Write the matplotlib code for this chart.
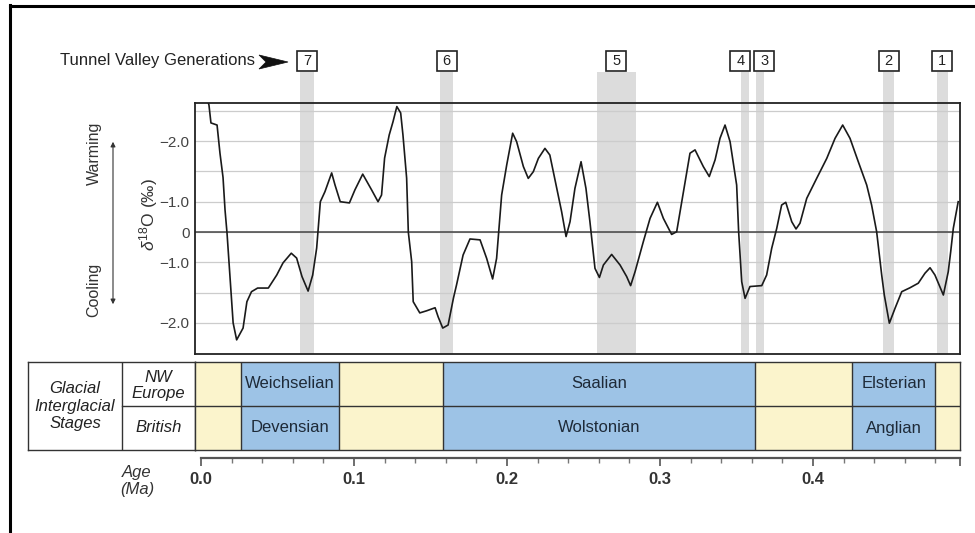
import matplotlib
matplotlib.use('Agg')
import numpy as np
import matplotlib.pyplot as plt
from matplotlib.patches import Polygon, FancyArrowPatch
from matplotlib.lines import Line2D
import matplotlib.transforms as mtransforms

plt.rcParams['font.family'] = ['Liberation Sans', 'DejaVu Sans']
plt.rcParams['mathtext.fontset'] = 'custom'
plt.rcParams['mathtext.rm'] = 'Liberation Sans'
plt.rcParams['mathtext.it'] = 'Liberation Sans:italic'

# ---------------- data ----------------
# Age (Ma) and d18O curve (in plot grid units; 1 unit = one grid line)
age = [0.0040, 0.0052, 0.0065, 0.0105, 0.0124, 0.0144, 0.0157, 0.0170, 0.0190, 0.0210,
       0.0233, 0.0275, 0.0300, 0.0330, 0.0370, 0.0440, 0.0495, 0.0536, 0.0590, 0.0625,
       0.0660, 0.0700, 0.0730, 0.0756, 0.0780, 0.0810, 0.0854, 0.0876, 0.0910, 0.0970,
       0.1006, 0.1057, 0.1115, 0.1157, 0.1180, 0.1200, 0.1230, 0.1255, 0.1280, 0.1305,
       0.1320, 0.1344, 0.1355, 0.1377, 0.1387, 0.1430, 0.1475, 0.1530, 0.1550, 0.1580,
       0.1615, 0.1650, 0.1670, 0.1713, 0.1758, 0.1824, 0.1867, 0.1906, 0.1932, 0.1965,
       0.1998, 0.2037, 0.2063, 0.2107, 0.2139, 0.2172, 0.2205, 0.2248, 0.2280, 0.2325,
       0.2357, 0.2386, 0.2412, 0.2444, 0.2484, 0.2516, 0.2542, 0.2575, 0.2604, 0.2630,
       0.2684, 0.2739, 0.2782, 0.2808, 0.2837, 0.2891, 0.2935, 0.2983, 0.3022, 0.3076,
       0.3109, 0.3153, 0.3196, 0.3229, 0.3283, 0.3322, 0.3360, 0.3392, 0.3425, 0.3458,
       0.3501, 0.3514, 0.3534, 0.3556, 0.3588, 0.3665, 0.3697, 0.3730, 0.3763, 0.3795,
       0.3822, 0.3861, 0.3889, 0.3915, 0.3959, 0.4024, 0.4090, 0.4144, 0.4194, 0.4242,
       0.4296, 0.4351, 0.4383, 0.4416, 0.4449, 0.4466, 0.4499, 0.4536, 0.4580, 0.4634,
       0.4688, 0.4732, 0.4765, 0.4797, 0.4852, 0.4884, 0.4900, 0.4917, 0.4949]
d18o = [4.4, 4.19, 3.6, 3.53, 2.6, 1.8, 0.73, -0.03, -1.5, -3.0,
        -3.56, -3.17, -2.3, -1.97, -1.85, -1.85, -1.42, -1.02, -0.70, -0.86,
        -1.47, -1.95, -1.42, -0.53, 1.0, 1.33, 1.95, 1.55, 1.0, 0.96,
        1.39, 1.91, 1.39, 1.0, 1.22, 2.44, 3.2, 3.64, 4.14, 3.93,
        3.2, 1.78, 0.0, -0.98, -2.3, -2.67, -2.6, -2.5, -2.8, -3.17,
        -3.07, -2.18, -1.75, -0.76, -0.23, -0.26, -0.87, -1.55, -0.87, 1.22,
        2.21, 3.26, 2.98, 2.16, 1.77, 1.99, 2.43, 2.76, 2.54, 1.44,
        0.67, -0.15, 0.34, 1.44, 2.32, 1.44, 0.34, -1.2, -1.5, -1.09,
        -0.74, -1.09, -1.47, -1.77, -1.31, -0.32, 0.45, 0.98, 0.45, -0.08,
        0.01, 1.33, 2.6, 2.71, 2.16, 1.83, 2.38, 3.09, 3.53, 2.98,
        1.55, 0.01, -1.64, -2.19, -1.8, -1.77, -1.42, -0.54, 0.12, 0.89,
        0.98, 0.34, 0.1, 0.29, 1.11, 1.77, 2.43, 3.09, 3.53, 3.09,
        2.32, 1.55, 0.89, 0.01, -1.42, -2.08, -3.01, -2.52, -1.97, -1.84,
        -1.69, -1.36, -1.18, -1.42, -2.08, -1.31, -0.65, 0.12, 1.0]

# y tick positions (grid units) and their printed labels
ytick_pos = [3, 1, 0, -1, -3]
ytick_labels = ['\u22122.0', '\u22121.0', '0', '\u22121.0', '\u22122.0']

# Tunnel valley generations (age ranges, Ma)
tv_labels = ['7', '6', '5', '4', '3', '2', '1']
tv_start = [0.065, 0.156, 0.259, 0.353, 0.363, 0.446, 0.481]
tv_end = [0.074, 0.165, 0.284, 0.358, 0.368, 0.453, 0.488]

# Glacial stages (age ranges, Ma)
glacial_start = [0.026, 0.158, 0.4255]
glacial_end = [0.090, 0.362, 0.480]
nw_europe_names = ['Weichselian', 'Saalian', 'Elsterian']
british_names = ['Devensian', 'Wolstonian', 'Anglian']

age_major = [0.0, 0.1, 0.2, 0.3, 0.4]
age_major_labels = ['0.0', '0.1', '0.2', '0.3', '0.4']

# ---------------- layout helpers ----------------
W, H = 975, 533
fig = plt.figure(figsize=(9.75, 5.33), dpi=100)
fig.patch.set_facecolor('white')


def fx(px):
    return px / W


def fy(py):
    return 1 - py / H


def rect(l, t, r, b):
    return [fx(l), fy(b), fx(r) - fx(l), fy(t) - fy(b)]


AGE0_PX, PX_PER_MA = 201, 1530


def age_at(px):
    return (px - AGE0_PX) / PX_PER_MA


XLIM = (age_at(195), age_at(960))
ZERO_PY, PX_PER_UNIT = 232, 30.3
YLIM = ((ZERO_PY - 354) / PX_PER_UNIT, (ZERO_PY - 103) / PX_PER_UNIT)

BLUE = '#9dc3e6'
YELLOW = '#fbf4cc'
BAND = '#dcdcdc'
TXT = '#1e2a38'

# ---------------- tunnel valley bands (behind main plot) ----------------
axb = fig.add_axes(rect(195, 72, 960, 354))
axb.set_xlim(*XLIM)
axb.set_ylim(0, 1)
axb.axis('off')
for s, e in zip(tv_start, tv_end):
    axb.axvspan(s, e, color=BAND, lw=0, zorder=0)
nudge = {'4': -0.0030, '3': 0.0025}
box_y = (354 - 61) / (354 - 72)
trans_b = mtransforms.blended_transform_factory(axb.transData, axb.transAxes)
for lab, s, e in zip(tv_labels, tv_start, tv_end):
    xc = (s + e) / 2 + nudge.get(lab, 0)
    axb.plot([xc], [box_y], marker='s', markersize=14.5, mfc='white', mec='#222', mew=1.2,
             transform=trans_b, clip_on=False, zorder=5)
    axb.text(xc, box_y, lab, transform=trans_b, ha='center', va='center',
             fontsize=10.5, color='#222', clip_on=False, zorder=6)

# ---------------- main d18O plot ----------------
ax = fig.add_axes(rect(195, 103, 960, 354))
ax.set_facecolor('none')
ax.set_xlim(*XLIM)
ax.set_ylim(*YLIM)
ax.set_yticks(ytick_pos, ytick_labels)
ax.set_yticks(range(-3, 5), minor=True)
ax.grid(axis='y', which='minor', color='#cccccc', lw=0.9, zorder=1)
ax.grid(axis='y', which='major', color='#cccccc', lw=0.9, zorder=1)
ax.axhline(0, color='#444444', lw=1.1, zorder=2)
ax.tick_params(axis='y', which='both', length=0, pad=4, labelsize=11, labelcolor='#444')
ax.set_xticks([])
ax.plot(age, d18o, color='#1a1a1a', lw=1.2, zorder=3)
for sp in ax.spines.values():
    sp.set_color('#222')
    sp.set_linewidth(1.3)

fig.text(fx(149), fy(214), r'$\delta^{18}$O (‰)', rotation=90, ha='center', va='center',
         fontsize=12.5, color='#333')
fig.text(fx(94), fy(153), 'Warming', rotation=90, ha='center', va='center', fontsize=11.5,
         color='#333')
fig.text(fx(94), fy(290), 'Cooling', rotation=90, ha='center', va='center', fontsize=11.5,
         color='#333')
fig.add_artist(FancyArrowPatch((fx(113), fy(307)), (fx(113), fy(139)), transform=fig.transFigure,
                               arrowstyle='<|-|>', mutation_scale=7, lw=0.8, color='#333'))

# header
fig.text(fx(60), fy(61), 'Tunnel Valley Generations', ha='left', va='center', fontsize=12,
         color='#222')
fig.add_artist(Polygon([(fx(259), fy(55)), (fx(288), fy(62)), (fx(259), fy(69)), (fx(266), fy(62))],
                       closed=True, transform=fig.transFigure, fc='#111', ec='#111', lw=0.5))

# ---------------- stage table ----------------
axl = fig.add_axes(rect(28, 362, 195, 450))
axl.set_xlim(0, 1)
axl.set_ylim(0, 2)
axl.set_xticks([])
axl.set_yticks([])
col_div = (122 - 28) / (195 - 28)
axl.axvline(col_div, color='#333', lw=1.0)
axl.plot([col_div, 1], [1, 1], color='#333', lw=1.0)
for sp in axl.spines.values():
    sp.set_color('#333')
    sp.set_linewidth(1.0)
axl.text(col_div / 2, 1.0, 'Glacial\nInterglacial\nStages', ha='center', va='center',
         fontsize=12, style='italic', color='#222', linespacing=1.2)
axl.text((1 + col_div) / 2, 1.47, 'NW\nEurope', ha='center', va='center', fontsize=12,
         style='italic', color='#222', linespacing=1.1)
axl.text((1 + col_div) / 2, 0.5, 'British', ha='center', va='center', fontsize=12,
         style='italic', color='#222')

axs = fig.add_axes(rect(195, 362, 960, 450))
axs.set_facecolor(YELLOW)
axs.set_xlim(*XLIM)
axs.set_ylim(0, 2)
axs.set_xticks([])
axs.set_yticks([])
for s, e, n1, n2 in zip(glacial_start, glacial_end, nw_europe_names, british_names):
    axs.axvspan(s, e, color=BLUE, lw=0)
    axs.axvline(s, color='#333', lw=1.0)
    axs.axvline(e, color='#333', lw=1.0)
    axs.text((s + e) / 2, 1.5, n1, ha='center', va='center', fontsize=12, color=TXT)
    axs.text((s + e) / 2, 0.5, n2, ha='center', va='center', fontsize=12, color=TXT)
axs.axhline(1, color='#333', lw=1.0)
for sp in axs.spines.values():
    sp.set_color('#333')
    sp.set_linewidth(1.0)

# ---------------- age axis ----------------
axa = fig.add_axes(rect(195, 440, 960, 458))
axa.set_facecolor('none')
axa.set_xlim(*XLIM)
axa.set_yticks([])
for k in ['top', 'left', 'right']:
    axa.spines[k].set_visible(False)
axa.spines['bottom'].set_bounds(0.0, XLIM[1])
axa.spines['bottom'].set_color('#555')
axa.spines['bottom'].set_linewidth(1.6)
axa.set_xticks(age_major + [XLIM[1]], age_major_labels + [''])
axa.set_xticks(np.arange(0.02, 0.49, 0.02), minor=True)
axa.tick_params(axis='x', which='major', length=6, width=1.2, color='#555', pad=4,
                labelsize=12)
axa.tick_params(axis='x', which='minor', length=3.5, width=1.0, color='#777')
for t in axa.get_xticklabels():
    t.set_fontfamily(['Liberation Sans Narrow', 'Liberation Sans'])
    t.set_fontweight('bold')
    t.set_color('#333')
fig.text(fx(137), fy(481), 'Age\n(Ma)', ha='center', va='center', fontsize=12, style='italic',
         color='#333', linespacing=1.2)

# ---------------- outer frame ----------------
fig.add_artist(Line2D([fx(10), fx(10)], [fy(5), 0], transform=fig.transFigure, color='black', lw=2.2))
fig.add_artist(Line2D([fx(10), 1], [fy(6), fy(6)], transform=fig.transFigure, color='black', lw=2.2))

fig.savefig('out.png', dpi=100)
